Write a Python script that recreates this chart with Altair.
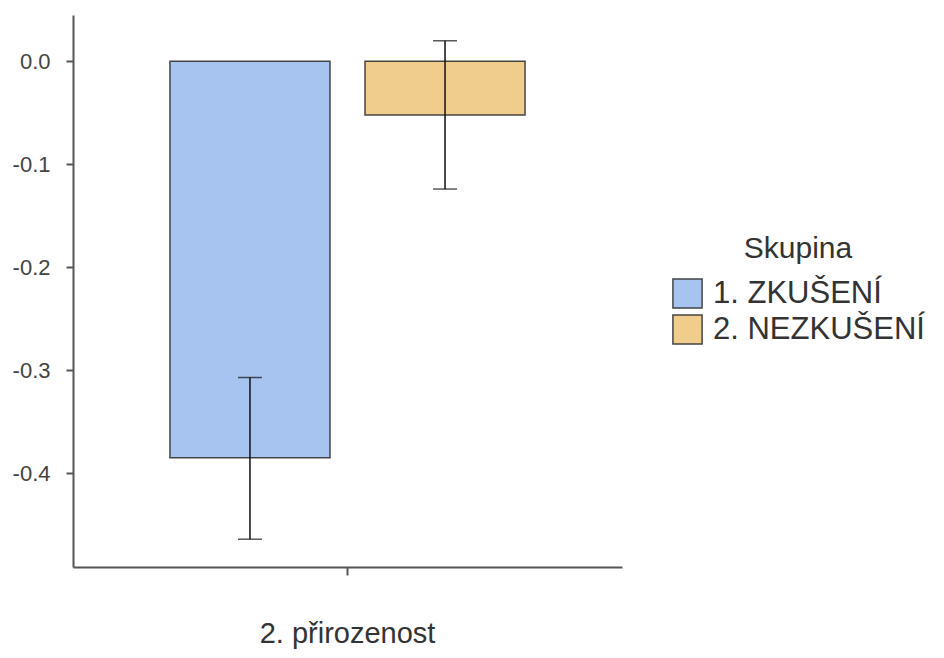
import altair as alt
import pandas as pd

category = "2. přirozenost"
groups = ["1. ZKUŠENÍ", "2. NEZKUŠENÍ"]
means = [-0.385, -0.052]
lower = [-0.464, -0.124]
upper = [-0.307, 0.020]
colors = ["#A7C4F0", "#F0CD8C"]

df = pd.DataFrame({
    "cat": [category] * len(groups),
    "Skupina": groups,
    "mean": means,
    "lo": lower,
    "hi": upper,
})

FONT = "Liberation Sans"

x = alt.X("cat:N", title=None,
          scale=alt.Scale(paddingOuter=0.273, paddingInner=0),
          axis=alt.Axis(labelAngle=0, labelFontSize=29, labelColor="#333",
                        labelPadding=44, tickSize=8, tickWidth=2, tickColor="#555",
                        domainColor="#555", domainWidth=2, labelFont=FONT, labelLimit=0))
xo = alt.XOffset("Skupina:N", sort=groups,
                 scale=alt.Scale(paddingInner=0.1795, paddingOuter=0))
y_scale = alt.Scale(domain=[-0.491, 0.045], nice=False, zero=False)
y = alt.Y("mean:Q", title=None, scale=y_scale,
          axis=alt.Axis(values=[-0.4, -0.3, -0.2, -0.1, 0.0], grid=False,
                        labelExpr="replace(format(datum.value, '.1f'), '\u2212', '-')",
                        labelFontSize=22, labelColor="#444", labelPadding=16,
                        tickSize=7, tickWidth=2, tickColor="#555",
                        domainColor="#555", domainWidth=2, labelFont=FONT))

bars = alt.Chart(df).mark_bar(stroke="#333", strokeWidth=1.5, strokeOpacity=0.9).encode(
    x=x, xOffset=xo, y=y,
    y2=alt.Y2(datum=0),
    color=alt.Color("Skupina:N", sort=groups,
                    scale=alt.Scale(domain=groups, range=colors),
                    legend=alt.Legend(title="Skupina", orient="none",
                                      legendX=599, legendY=219,
                                      titleFontSize=30, titleFontWeight="normal",
                                      titleColor="#333", titleAnchor="middle",
                                      titlePadding=14, titleFont=FONT,
                                      labelFontSize=31, labelColor="#333", labelFont=FONT,
                                      labelLimit=0,
                                      labelOffset=10, symbolType="square",
                                      symbolSize=850, symbolStrokeColor="#444",
                                      symbolStrokeWidth=1.5, symbolOpacity=1,
                                      rowPadding=-1)),
)

err = alt.Chart(df).mark_rule(color="#111", strokeWidth=1.5).encode(
    x=x, xOffset=xo,
    y=alt.Y("lo:Q", scale=y_scale),
    y2="hi:Q",
)
cap_lo = alt.Chart(df).mark_tick(color="#111", size=24, thickness=1.5).encode(
    x=x, xOffset=xo, y=alt.Y("lo:Q", scale=y_scale),
)
cap_hi = alt.Chart(df).mark_tick(color="#111", size=24, thickness=1.5).encode(
    x=x, xOffset=xo, y=alt.Y("hi:Q", scale=y_scale),
)

chart = alt.layer(bars, err, cap_lo, cap_hi).properties(
    width=549, height=552,
    autosize=alt.AutoSizeParams(type="none"),
    padding={"left": 65, "top": 7, "right": 314, "bottom": 83},
).configure(font=FONT).configure_view(stroke=None)

chart.save("out.html", embed_options={"renderer": "svg", "actions": False})
